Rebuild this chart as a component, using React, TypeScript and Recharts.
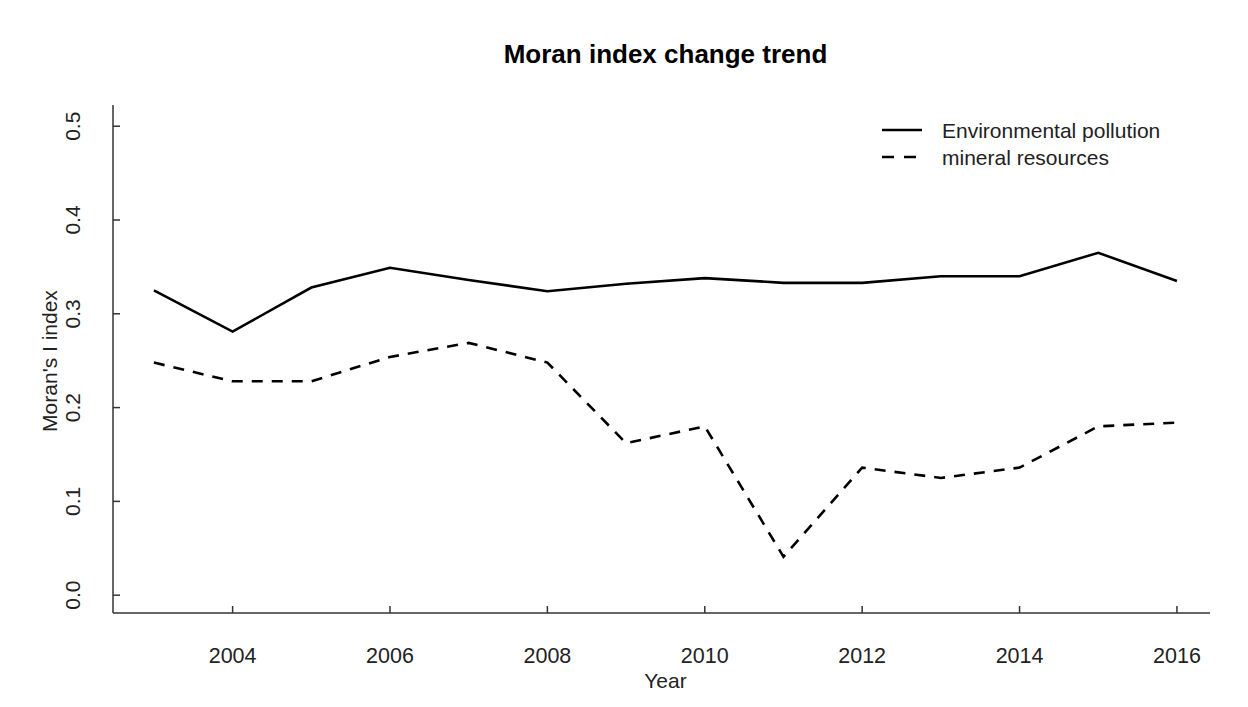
import { Label, Legend, Line, LineChart, XAxis, YAxis } from "recharts";

const years = [2003, 2004, 2005, 2006, 2007, 2008, 2009, 2010, 2011, 2012, 2013, 2014, 2015, 2016];
const environmentalPollution = [0.325, 0.281, 0.328, 0.349, 0.336, 0.324, 0.332, 0.338, 0.333, 0.333, 0.34, 0.34, 0.365, 0.335];
const mineralResources = [0.248, 0.228, 0.228, 0.254, 0.269, 0.248, 0.162, 0.18, 0.041, 0.136, 0.125, 0.136, 0.18, 0.184];
const yearTicks = [2004, 2006, 2008, 2010, 2012, 2014, 2016];
const indexTicks = [0, 0.1, 0.2, 0.3, 0.4, 0.5];
const seriesNames = ["Environmental pollution", "mineral resources"];

const data = years.map((year, i) => ({
  year,
  pollution: environmentalPollution[i],
  mineral: mineralResources[i]
}));

const FONT = '"Liberation Sans", Arial, sans-serif';
const INK = "#222";
const DASH = "11 9";

function YTick({ x, y, payload }: any) {
  return (
    <text
      x={x}
      y={y}
      transform={`rotate(-90, ${x}, ${y})`}
      textAnchor="middle"
      fontSize={21}
      fontFamily={FONT}
      fill={INK}
    >
      {Number(payload.value).toFixed(1)}
    </text>
  );
}

function XTick({ x, y, payload }: any) {
  return (
    <text x={x} y={y} textAnchor="middle" fontSize={21.5} fontFamily={FONT} fill={INK}>
      {payload.value}
    </text>
  );
}

function renderLegend({ payload }: any) {
  return (
    <svg width={320} height={64} style={{ display: "block" }}>
      {(payload || []).map((entry: any, i: number) => {
        const cy = 20 + i * 27;
        return (
          <g key={entry.value}>
            <line
              x1={12}
              x2={52}
              y1={cy}
              y2={cy}
              stroke="#000"
              strokeWidth={2.6}
              strokeDasharray={entry.dataKey === "mineral" ? "12 10" : undefined}
            />
            <text x={72} y={cy + 7.5} fontSize={21} fontFamily={FONT} fill={INK}>
              {entry.value}
            </text>
          </g>
        );
      })}
    </svg>
  );
}

export default function App() {
  return (
    <div style={{ position: "absolute", left: 0, top: 0, width: 1248, height: 707, background: "#fff" }}>
      <LineChart width={1248} height={707} data={data} margin={{ top: 105, right: 38, bottom: 34, left: 33 }}>
        <XAxis
          dataKey="year"
          type="number"
          domain={[2002.48, 2016.42]}
          ticks={yearTicks}
          interval={0}
          allowDataOverflow
          height={60}
          tickSize={-7}
          tickMargin={57}
          tick={<XTick />}
          axisLine={{ stroke: "#333", strokeWidth: 1.5 }}
          tickLine={{ stroke: "#333", strokeWidth: 1.5 }}
        >
          <Label
            content={({ viewBox }: any) => (
              <text
                x={viewBox.x + viewBox.width / 2 + 4}
                y={688}
                textAnchor="middle"
                fontSize={21}
                fontFamily={FONT}
                fill={INK}
              >
                Year
              </text>
            )}
          />
        </XAxis>
        <YAxis
          type="number"
          domain={[-0.019, 0.5226]}
          ticks={indexTicks}
          interval={0}
          allowDataOverflow
          width={80}
          tickSize={-7}
          tickMargin={40}
          tick={<YTick />}
          axisLine={{ stroke: "#333", strokeWidth: 1.5 }}
          tickLine={{ stroke: "#333", strokeWidth: 1.5 }}
        >
          <Label
            content={({ viewBox }: any) => {
              const cx = 57;
              const cy = viewBox.y + viewBox.height / 2 + 2;
              return (
                <text
                  x={cx}
                  y={cy}
                  transform={`rotate(-90, ${cx}, ${cy})`}
                  textAnchor="middle"
                  fontSize={21}
                  fontFamily={FONT}
                  fill={INK}
                >
                  Moran's I index
                </text>
              );
            }}
          />
        </YAxis>
        <Legend
          layout="vertical"
          align="center"
          verticalAlign="middle"
          content={renderLegend}
          wrapperStyle={{ position: "absolute", left: 870, top: 110, width: 320, height: 64 }}
        />
        <Line
          type="linear"
          dataKey="pollution"
          name={seriesNames[0]}
          stroke="#000"
          strokeWidth={2.6}
          dot={false}
          activeDot={false}
          isAnimationActive={false}
        />
        <Line
          type="linear"
          dataKey="mineral"
          name={seriesNames[1]}
          stroke="#000"
          strokeWidth={2.6}
          strokeDasharray={DASH}
          dot={false}
          activeDot={false}
          isAnimationActive={false}
        />
      </LineChart>
      <svg
        width={1248}
        height={707}
        style={{ position: "absolute", left: 0, top: 0, pointerEvents: "none" }}
      >
        <text x={665.5} y={63} textAnchor="middle" fontSize={26} fontWeight="bold" fontFamily={FONT} fill="#000">
          Moran index change trend
        </text>
      </svg>
    </div>
  );
}
